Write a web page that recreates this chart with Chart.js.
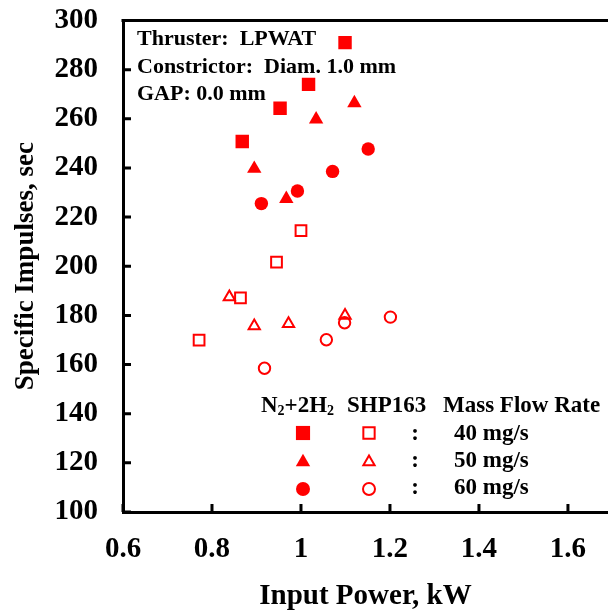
<!DOCTYPE html>
<html>
<head>
<meta charset="utf-8">
<script src="https://cdn.jsdelivr.net/npm/chart.js@4/dist/chart.umd.min.js"></script>
<style>
  html, body { margin: 0; padding: 0; background: #fff; }
  canvas { display: block; }
</style>
</head>
<body>
<canvas id="ispChart" width="608" height="611"></canvas>
<script>
// Specific impulse vs input power, LPWAT thruster

const xTicks = [0.6, 0.8, 1, 1.2, 1.4, 1.6];
const yTicks = [100, 120, 140, 160, 180, 200, 220, 240, 260, 280, 300];

// N2+2H2 (filled markers)
const n2h2Power40 = [1.099, 1.017, 0.953, 0.868];
const n2h2Isp40 = [291.0, 274.0, 264.3, 250.8];
const n2h2Power50 = [1.120, 1.034, 0.895, 0.967];
const n2h2Isp50 = [266.4, 259.8, 239.7, 227.4];
const n2h2Power60 = [1.151, 1.071, 0.992, 0.911];
const n2h2Isp60 = [247.7, 238.6, 230.6, 225.5];

// SHP163 (open markers)
const shpPower40 = [1.000, 0.945, 0.864, 0.771];
const shpIsp40 = [214.5, 201.7, 187.1, 169.9];
const shpPower50 = [0.839, 0.895, 0.972, 1.099];
const shpIsp50 = [187.5, 175.7, 176.6, 180.0];
const shpPower60 = [1.098, 1.201, 1.057, 0.918];
const shpIsp60 = [177.0, 179.3, 170.1, 158.5];

const infoLines = ['Thruster:  LPWAT', 'Constrictor:  Diam. 1.0 mm', 'GAP: 0.0 mm'];
const flowLabels = ['40 mg/s', '50 mg/s', '60 mg/s'];

const RED = '#ff0000';
const FONT = "'Liberation Serif', 'Times New Roman', serif";

function pts(xs, ys) {
    return xs.map((x, i) => ({ x: x, y: ys[i] }));
}

function filled(data, style, r) {
    return {
        data: data, pointStyle: style, pointRadius: r,
        backgroundColor: RED, borderColor: RED, borderWidth: 0,
        showLine: false
    };
}

function open(data, style, r) {
    return {
        data: data, pointStyle: style, pointRadius: r,
        backgroundColor: 'rgba(0,0,0,0)', borderColor: RED, borderWidth: 2,
        showLine: false
    };
}

// same geometry as chart.js point styles
function marker(ctx, style, x, y, r, fill) {
    ctx.beginPath();
    if (style === 'rect') {
        const s = Math.SQRT1_2 * r;
        ctx.rect(x - s, y - s, 2 * s, 2 * s);
    } else if (style === 'triangle') {
        ctx.moveTo(x, y - r);
        ctx.lineTo(x + r * Math.sin(Math.PI * 2 / 3), y - r * Math.cos(Math.PI * 2 / 3));
        ctx.lineTo(x + r * Math.sin(Math.PI * 4 / 3), y - r * Math.cos(Math.PI * 4 / 3));
        ctx.closePath();
    } else {
        ctx.arc(x, y, r, 0, Math.PI * 2);
    }
    if (fill) {
        ctx.fillStyle = RED;
        ctx.fill();
    } else {
        ctx.strokeStyle = RED;
        ctx.lineWidth = 2;
        ctx.stroke();
    }
}

const decorPlugin = {
    id: 'decor',
    afterDraw(chart) {
        const ctx = chart.ctx;
        const area = chart.chartArea;
        const xs = chart.scales.x;
        const ys = chart.scales.y;
        ctx.save();

        // top frame line
        ctx.strokeStyle = '#000';
        ctx.lineWidth = 3;
        ctx.beginPath();
        ctx.moveTo(area.left - 1.5, area.top);
        ctx.lineTo(area.right, area.top);
        ctx.stroke();

        // inward tick marks
        ctx.beginPath();
        ys.ticks.forEach(t => {
            const py = ys.getPixelForValue(t.value);
            ctx.moveTo(area.left, py);
            ctx.lineTo(area.left + 8, py);
        });
        xs.ticks.forEach(t => {
            const px = xs.getPixelForValue(t.value);
            ctx.moveTo(px, area.bottom);
            ctx.lineTo(px, area.bottom - 8);
        });
        ctx.stroke();

        // info text
        ctx.fillStyle = '#000';
        ctx.font = 'bold 22px ' + FONT;
        ctx.textAlign = 'left';
        ctx.textBaseline = 'alphabetic';
        infoLines.forEach((s, i) => ctx.fillText(s, 137, 45 + i * 27.5));

        // legend header
        let hx = 261;
        const hy = 412;
        const parts = [['N', 0], ['2', 1], ['+2H', 0], ['2', 1]];
        parts.forEach(p => {
            if (p[1]) {
                ctx.font = 'bold 14px ' + FONT;
                ctx.fillText(p[0], hx, hy + 3);
            } else {
                ctx.font = 'bold 23px ' + FONT;
                ctx.fillText(p[0], hx, hy);
            }
            hx += ctx.measureText(p[0]).width;
        });
        ctx.font = 'bold 23px ' + FONT;
        ctx.fillText('SHP163', 347, hy);
        ctx.fillText('Mass Flow Rate', 443, hy);

        // legend rows
        const rowY = [439.5, 466.5, 494];
        const markY = [433, 462, 489];
        const styles = ['rect', 'triangle', 'circle'];
        const fillR = [10, 8.3, 7];
        const openR = [8, 6.5, 6];
        rowY.forEach((y, i) => {
            marker(ctx, styles[i], 303, markY[i], fillR[i], true);
            marker(ctx, styles[i], 369, markY[i], openR[i], false);
            ctx.fillStyle = '#000';
            ctx.textAlign = 'center';
            ctx.fillText(':', 415, y);
            ctx.textAlign = 'left';
            ctx.fillText(flowLabels[i], 454, y);
        });

        ctx.restore();
    }
};

new Chart(document.getElementById('ispChart').getContext('2d'), {
    type: 'scatter',
    data: {
        datasets: [
            filled(pts(n2h2Power40, n2h2Isp40), 'rect', 9.5),
            filled(pts(n2h2Power50, n2h2Isp50), 'triangle', 8.3),
            filled(pts(n2h2Power60, n2h2Isp60), 'circle', 6.7),
            open(pts(shpPower40, shpIsp40), 'rect', 7.6),
            open(pts(shpPower50, shpIsp50), 'triangle', 6.5),
            open(pts(shpPower60, shpIsp60), 'circle', 5.7)
        ]
    },
    options: {
        responsive: false,
        animation: false,
        devicePixelRatio: 1,
        layout: {
            autoPadding: false,
            padding: { top: 20.5, right: 0, bottom: 0, left: 0 }
        },
        plugins: {
            legend: { display: false },
            tooltip: { enabled: false }
        },
        scales: {
            x: {
                type: 'linear',
                min: 0.6,
                max: 1.69,
                afterBuildTicks: scale => { scale.ticks = xTicks.map(v => ({ value: v })); },
                afterFit: scale => {
                    scale.height = 99;
                    scale.paddingLeft = 0;
                    scale.paddingRight = 0;
                },
                grid: { display: false, drawTicks: false },
                border: { display: true, color: '#000', width: 3 },
                ticks: {
                    padding: 20,
                    color: '#000',
                    font: { family: FONT, size: 29, weight: 'bold' },
                    callback: v => String(v),
                    maxRotation: 0
                },
                title: {
                    display: true,
                    text: 'Input Power, kW',
                    color: '#000',
                    font: { family: FONT, size: 29, weight: 'bold', lineHeight: 1 },
                    padding: 0
                }
            },
            y: {
                type: 'linear',
                min: 100,
                max: 300,
                afterBuildTicks: scale => { scale.ticks = yTicks.map(v => ({ value: v })); },
                afterFit: scale => {
                    scale.width = 123;
                    scale.paddingTop = 0;
                    scale.paddingBottom = 0;
                },
                grid: { display: false, drawTicks: false },
                border: { display: true, color: '#000', width: 3 },
                ticks: {
                    padding: 25,
                    color: '#000',
                    font: { family: FONT, size: 29, weight: 'bold' }
                },
                title: {
                    display: true,
                    text: 'Specific Impulses, sec',
                    color: '#000',
                    font: { family: FONT, size: 27, weight: 'bold', lineHeight: 1 },
                    padding: { top: 13, bottom: 0 }
                }
            }
        }
    },
    plugins: [decorPlugin]
});
</script>
</body>
</html>
